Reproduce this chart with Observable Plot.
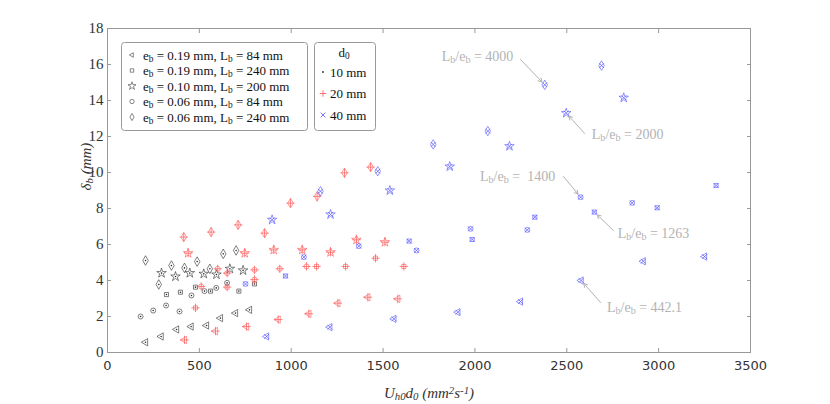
<!DOCTYPE html>
<html><head><meta charset="utf-8">
<script src="https://cdn.jsdelivr.net/npm/d3@7"></script>
<script src="https://cdn.jsdelivr.net/npm/@observablehq/plot@0.6"></script>
<style>
html,body{margin:0;padding:0;background:#fff;}
#chart{position:relative;width:830px;height:404px;}
</style></head><body><div id="chart"></div>
<script>
// ---- categories ----
const configLabels = ["e_b = 0.19 mm, L_b = 84 mm", "e_b = 0.19 mm, L_b = 240 mm", "e_b = 0.10 mm, L_b = 200 mm", "e_b = 0.06 mm, L_b = 84 mm", "e_b = 0.06 mm, L_b = 240 mm"];
const configSymbols = ["triangle", "square", "star", "circle", "diamond"];
const d0Labels = ["10 mm", "20 mm", "40 mm"];
const d0Symbols = ["dot", "plus", "times"];
const d0Colors = ["#2a2a2a", "#ff5050", "#5050ff"];
const xTicks = [0, 500, 1000, 1500, 2000, 2500, 3000, 3500];
const yTicks = [0, 2, 4, 6, 8, 10, 12, 14, 16, 18];

// ---- series values [U_h0*d0, delta_b] ----
// d0 = 10 mm
const d10_A = [[207,0.57],[292,0.89],[376,1.28],[455,1.44],[539,1.50],[615,1.91],[697,2.19],[773,2.37]];
const d10_B = [[321,3.22],[397,3.35],[479,3.63],[561,3.41],[715,3.41],[800,3.81]];
const d10_C = [[294,4.41],[370,4.22],[448,4.41],[524,4.37],[593,4.33],[666,4.65],[738,4.56]];
const d10_D = [[180,2.00],[249,2.33],[319,2.61],[392,2.28],[457,3.17],[528,3.41],[592,3.59],[651,3.87]];
const d10_E = [[207,5.11],[279,3.78],[348,4.83],[419,4.70],[488,5.05],[557,4.65],[630,5.48],[700,5.67]];
// d0 = 20 mm
const d20_A = [[419,0.70],[588,1.19],[757,1.44],[929,1.83],[1096,2.15],[1254,2.74],[1417,3.07],[1580,2.98]];
const d20_B = [[479,2.48],[651,3.63],[1138,4.78],[1296,4.78],[1459,5.24],[1613,4.78]];
const d20_C = [[439,5.52],[747,5.52],[905,5.70],[1060,5.70],[1214,5.57],[1355,6.26],[1510,6.13]];
const d20_D = [[510,3.67],[600,4.65],[651,4.41],[800,4.05],[800,4.59],[938,4.65],[1083,4.78]];
const d20_E = [[415,6.41],[564,6.69],[711,7.09],[855,6.63],[996,8.30],[1141,8.67],[1290,9.98],[1432,10.30]];
// d0 = 40 mm
const d40_A = [[866,0.89],[1210,1.41],[1559,1.87],[1907,2.24],[2248,2.83],[2578,4.00],[2916,5.07],[3250,5.33]];
const d40_B = [[969,4.25],[1642,6.19],[1985,6.28],[2326,7.52],[2650,7.80],[2992,8.04],[3313,9.28]];
const d40_C = [[896,7.37],[1214,7.67],[1537,9.00],[1863,10.33],[2188,11.46],[2497,13.30],[2810,14.15]];
const d40_D = [[751,3.81],[1069,5.30],[1368,5.91],[1682,5.67],[1976,6.87],[2285,6.81],[2575,8.63],[2856,8.31]];
const d40_E = [[1159,8.96],[1471,10.07],[1773,11.56],[2070,12.30],[2380,14.87],[2689,15.94]];

// annotations: label, target point, text position, arrow start
const annLabels = ["L_b/e_b = 4000", "L_b/e_b = 2000", "L_b/e_b =  1400", "L_b/e_b = 1263", "L_b/e_b = 442.1"];
const annTargets = [[2380,14.87],[2497,13.30],[2575,8.63],[2650,7.80],[2578,4.00]];
const annText = [[2014,16.44],[2831,12.10],[2232,9.78],[2972,6.61],[2923,2.50]];
const annFrom = [[2248,16.28],[2597,12.17],[2482,9.78],[2754,6.78],[2684,2.78]];

const xLabel = "U_{h0}d_0 (mm^2s^{-1})";
const yLabel = "δ_b (mm)";

// ---- build table ----
const seriesGrid = [
  [d10_A, d10_B, d10_C, d10_D, d10_E],
  [d20_A, d20_B, d20_C, d20_D, d20_E],
  [d40_A, d40_B, d40_C, d40_D, d40_E]
];
const rows = [];
seriesGrid.forEach((bySeries, di) => bySeries.forEach((pts, ci) => pts.forEach(([U, delta]) => rows.push({U, delta, cfg: ci, d0: di, color: d0Colors[di]}))));
const ann = annLabels.map((label, i) => ({label, x: annTargets[i][0], y: annTargets[i][1], tx: annText[i][0], ty: annText[i][1], fx: annFrom[i][0], fy: annFrom[i][1]}));

const SERIF = "'Liberation Serif', 'DejaVu Serif', 'Times New Roman', serif";
const SANS = "'DejaVu Sans', Verdana, sans-serif";
const configRotate = [-90, 0, 0, 0, 0];
const configR = [2.7, 2.3, 3.0, 2.5, 2.9];
const grey = "#999";
const annColor = "#b3b3b3";

const shapeMarks = configSymbols.map((sym, ci) =>
  Plot.dot(rows.filter(r => r.cfg === ci), {x: "U", y: "delta", symbol: sym, rotate: configRotate[ci], r: configR[ci], stroke: "color", fill: "none", strokeWidth: 0.6})
);
const centerMarks = [
  Plot.dot(rows.filter(r => r.d0 === 0), {x: "U", y: "delta", r: 0.8, fill: d0Colors[0], stroke: "none"}),
  Plot.dot(rows.filter(r => r.d0 === 1), {x: "U", y: "delta", symbol: "plus", r: 2.8, stroke: d0Colors[1], strokeWidth: 0.7}),
  Plot.dot(rows.filter(r => r.d0 === 2), {x: "U", y: "delta", symbol: "times", r: 2.3, stroke: d0Colors[2], strokeWidth: 0.7})
];

const svg = Plot.plot({
  width: 830, height: 404,
  marginLeft: 107, marginRight: 80, marginTop: 28, marginBottom: 52,
  x: {domain: [0, 3500], label: null},
  y: {domain: [0, 18], label: null},
  color: {type: "identity"},
  style: {background: "white", overflow: "visible"},
  marks: [
    Plot.frame({stroke: grey}),
    Plot.axisX({anchor: "bottom", ticks: xTicks, tickSize: -4, stroke: grey, fill: "none", label: null}),
    Plot.axisX({anchor: "top", ticks: xTicks, tickSize: -4, stroke: grey, fill: "none", label: null}),
    Plot.axisY({anchor: "left", ticks: yTicks, tickSize: -4, stroke: grey, fill: "none", label: null}),
    Plot.axisY({anchor: "right", ticks: yTicks, tickSize: -4, stroke: grey, fill: "none", label: null}),
    Plot.axisX({anchor: "bottom", ticks: xTicks, tickFormat: d => String(d), tickSize: 0, tickPadding: 8, fill: "#333", label: null, ariaLabel: "xticklabels"}),
    Plot.axisY({anchor: "left", ticks: yTicks, tickFormat: d => String(d), tickSize: 0, tickPadding: 4, fill: "#333", label: null, ariaLabel: "yticklabels"}),
    ...shapeMarks,
    ...centerMarks,
    Plot.arrow(ann, {x1: "fx", y1: "fy", x2: "x", y2: "y", stroke: annColor, strokeWidth: 1, headLength: 6, insetEnd: 4}),
    Plot.text(ann, {x: "tx", y: "ty", text: "label", fill: annColor, fontSize: 14, ariaLabel: "annotations"}),
    Plot.text([yLabel], {text: d => d, frameAnchor: "left", dx: -21, rotate: -90, fill: "#333", fontStyle: "italic", fontSize: 15, ariaLabel: "ylabel"}),
    Plot.text([xLabel], {text: d => d, frameAnchor: "bottom", dy: 45, fill: "#333", fontStyle: "italic", fontSize: 15, ariaLabel: "xlabel"})
  ]
});

// ---- rich text (sub/superscripts) ----
function richText(el, str) {
  const sel = d3.select(el);
  sel.text(null);
  const re = /([_^])(\{[^}]*\}|.)/g;
  let last = 0, m;
  while ((m = re.exec(str))) {
    if (m.index > last) sel.append("tspan").text(str.slice(last, m.index));
    const t = m[2].startsWith("{") ? m[2].slice(1, -1) : m[2];
    sel.append("tspan").attr("baseline-shift", m[1] === "_" ? "-20%" : "35%").attr("font-size", "72%").text(t);
    last = re.lastIndex;
  }
  if (last < str.length) sel.append("tspan").text(str.slice(last));
}

const root = d3.select(svg);
// fonts
root.selectAll("text").style("font-family", SERIF);
root.selectAll('[aria-label^="xticklabels"] text, g[aria-label^="xticklabels"]').style("font-family", SANS).style("font-size", "13px");
root.selectAll('[aria-label^="yticklabels"] text, g[aria-label^="yticklabels"]').style("font-size", "15px");

// ---- legends ----
const symbolOf = {triangle: d3.symbolTriangle2, square: d3.symbolSquare2, star: d3.symbolStar, circle: d3.symbolCircle, diamond: d3.symbolDiamond, plus: d3.symbolPlus, times: d3.symbolTimes};
const lg = root.append("g").attr("text-anchor", "start").style("font-family", SERIF).style("font-size", "13px").attr("fill", "#111");
lg.append("rect").attr("x", 121.5).attr("y", 42.5).attr("width", 186).attr("height", 88).attr("rx", 3).attr("fill", "white").attr("stroke", grey);
lg.append("rect").attr("x", 314.5).attr("y", 42.5).attr("width", 61).attr("height", 88).attr("rx", 3).attr("fill", "white").attr("stroke", grey);
configLabels.forEach((lab, i) => {
  const cy = 55 + i * 15.5;
  const s = configSymbols[i];
  lg.append("path").attr("d", d3.symbol(symbolOf[s], s === "star" ? 20 : 15)())
    .attr("transform", `translate(132,${cy}) rotate(${configRotate[i]})`).attr("fill", "none").attr("stroke", "#555").attr("stroke-width", 0.7);
  const t = lg.append("text").attr("x", 143).attr("y", cy + 4.5).node();
  richText(t, lab);
});
richText(lg.append("text").attr("x", 344).attr("y", 57).attr("text-anchor", "middle").node(), "d_0");
d0Labels.forEach((lab, i) => {
  const cy = 72 + i * 21.5;
  if (d0Symbols[i] === "dot") {
    lg.append("circle").attr("cx", 323).attr("cy", cy).attr("r", 0.9).attr("fill", d0Colors[0]);
  } else {
    lg.append("path").attr("d", d3.symbol(symbolOf[d0Symbols[i]], 16)()).attr("transform", `translate(323,${cy})`).attr("fill", "none").attr("stroke", d0Colors[i]).attr("stroke-width", 0.8);
  }
  lg.append("text").attr("x", 330).attr("y", cy + 4.5).text(lab);
});

// apply rich text to plot texts
root.selectAll("text").each(function() {
  const s = this.textContent;
  if (/[_^]/.test(s) && this.querySelector("tspan") === null) richText(this, s);
});
root.selectAll("text").filter(function() { return this.textContent.includes("  "); }).style("white-space", "pre");

document.getElementById("chart").appendChild(svg);
</script>
</body></html>
